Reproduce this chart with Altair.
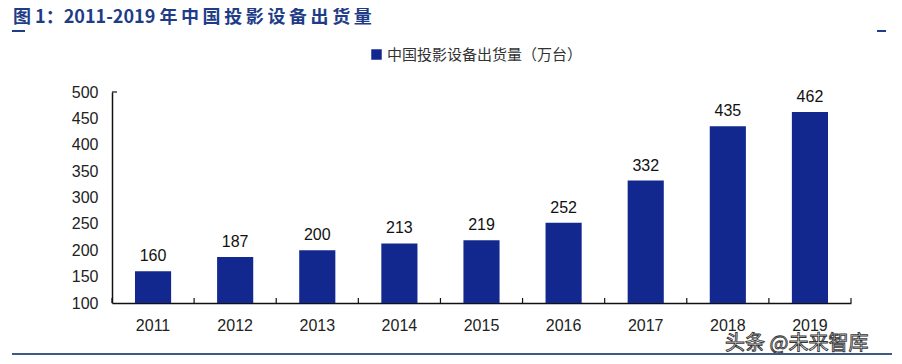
import altair as alt
import pandas as pd

years = ["2011", "2012", "2013", "2014", "2015", "2016", "2017", "2018", "2019"]
shipments = [160, 187, 200, 213, 219, 252, 332, 435, 462]
series_name = "中国投影设备出货量（万台）"
y_ticks = [100, 150, 200, 250, 300, 350, 400, 450, 500]
title_text = "图 1：2011-2019 年\u2009中\u2009国\u2009投\u2009影\u2009设\u2009备\u2009出\u2009货\u2009量"
watermark = "头条 @未来智库"

df = pd.DataFrame({"year": years, "value": shipments, "series": [series_name] * len(years)})

W, H = 739, 211
BAR = "#13288F"
NAVY = "#1F3C88"

x_enc = alt.X("year:N", sort=years,
              scale=alt.Scale(paddingInner=0.56, paddingOuter=0.28),
              axis=alt.Axis(title=None, labelAngle=0, labelFont="Liberation Sans",
                            labelFontSize=16, labelColor="#222", labelPadding=14,
                            ticks=False, domainColor="#111", domainWidth=1.5,
                            labelOverlap=False))
y_enc = alt.Y("value:Q", scale=alt.Scale(domain=[100, 500], zero=False, nice=False),
              axis=alt.Axis(title=None, values=y_ticks, tickCount=9, grid=False, ticks=False,
                            labelFont="Liberation Sans", labelFontSize=16,
                            labelColor="#222", labelPadding=14, labelOverlap=False,
                            labelFlush=False, labelBound=False,
                            domainColor="#111", domainWidth=1.5))

base = alt.Chart(df)

bars = base.mark_bar(cornerRadius=0).encode(
    x=x_enc,
    y=y_enc,
    y2=alt.datum(100),
    color=alt.Color("series:N", scale=alt.Scale(range=[BAR]),
                    legend=alt.Legend(orient="none", legendX=257, legendY=-45, title=None,
                                      symbolType="square", symbolSize=110,
                                      symbolStrokeWidth=0, labelFont="Noto Sans CJK SC",
                                      labelFontSize=15, labelColor="#333", labelOffset=3,
                                      labelLimit=400)),
)

labels = base.mark_text(dy=-15, fontSize=16, font="Liberation Sans", color="#111").encode(
    x=x_enc, y=y_enc, text="value:Q"
)

step = W / 9.0
ticks = base.mark_rule(color="#111", strokeWidth=1.2, xOffset=-0.28 * step).encode(
    x=alt.X("year:N", sort=years, bandPosition=0),
    y=alt.value(H), y2=alt.value(H - 5),
)
end_tick = alt.Chart(pd.DataFrame({"year": [years[-1]]})).mark_rule(
    color="#111", strokeWidth=1.2, xOffset=0.28 * step).encode(
    x=alt.X("year:N", sort=years, bandPosition=1),
    y=alt.value(H), y2=alt.value(H - 5),
)
top_tick = alt.Chart(pd.DataFrame({"a": [0]})).mark_rule(color="#111", strokeWidth=1.2).encode(
    x=alt.value(0), x2=alt.value(5), y=alt.value(0)
)

one = pd.DataFrame({"t": [title_text]})
title = alt.Chart(one).mark_text(align="left", baseline="alphabetic", fontSize=18,
                                 font="Noto Sans CJK SC", fontWeight="bold", color=NAVY).encode(
    x=alt.value(-99), y=alt.value(-69), text="t:N"
)
under1 = alt.Chart(pd.DataFrame({"a": [0]})).mark_rule(color=NAVY, strokeWidth=2).encode(
    x=alt.value(-100), x2=alt.value(-87), y=alt.value(-61)
)
under2 = alt.Chart(pd.DataFrame({"a": [0]})).mark_rule(color=NAVY, strokeWidth=2).encode(
    x=alt.value(765), x2=alt.value(774), y=alt.value(-61)
)
wm = alt.Chart(pd.DataFrame({"t": [watermark]})).mark_text(
    align="left", baseline="middle", fontSize=20, font="Noto Sans CJK SC",
    color="white", stroke="#333", strokeWidth=0.9).encode(
    x=alt.value(613), y=alt.value(252), text="t:N"
)
bottom = alt.Chart(pd.DataFrame({"a": [0]})).mark_rule(color="#3D5A80", strokeWidth=2).encode(
    x=alt.value(-100), x2=alt.value(780), y=alt.value(262)
)

chart = alt.layer(bars, labels, ticks, end_tick, top_tick, title, under1, under2, wm, bottom).properties(
    width=W, height=H,
    autosize=alt.AutoSizeParams(type="none"),
    padding={"left": 104, "top": 84, "right": 43, "bottom": 53},
).configure_view(stroke=None)

chart.save("out.html", embed_options={"renderer": "svg", "actions": False})
